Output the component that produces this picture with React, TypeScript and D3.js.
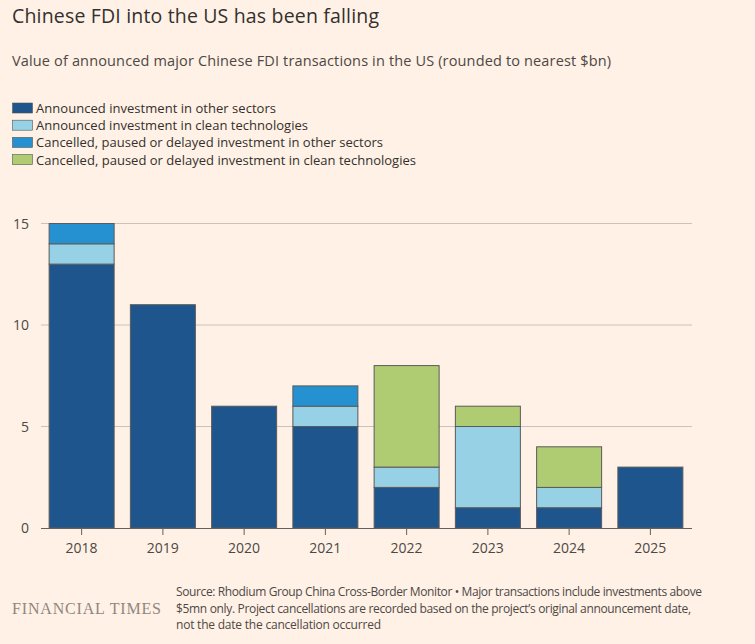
import React, { useEffect, useRef } from "react";
import * as d3 from "d3";

const years = ["2018", "2019", "2020", "2021", "2022", "2023", "2024", "2025"];
const announcedOther = [13, 11, 6, 5, 2, 1, 1, 3];
const announcedClean = [1, 0, 0, 1, 1, 4, 1, 0];
const cancelledOther = [1, 0, 0, 1, 0, 0, 0, 0];
const cancelledClean = [0, 0, 0, 0, 5, 1, 2, 0];
const yTicks = [0, 5, 10, 15];

const seriesNames = [
  "Announced investment in other sectors",
  "Announced investment in clean technologies",
  "Cancelled, paused or delayed investment in other sectors",
  "Cancelled, paused or delayed investment in clean technologies",
];
const colors = ["#1f558d", "#96d1e6", "#2591d0", "#b0cc72"];

const W = 755;
const H = 644;
const FONT = "'Open Sans', 'Noto Sans', sans-serif";

export default function App() {
  const ref = useRef<SVGSVGElement>(null);

  useEffect(() => {
    const svg = d3.select(ref.current);
    svg.selectAll("*").remove();

    svg.append("rect").attr("width", W).attr("height", H).attr("fill", "#fff1e5");

    svg.append("text").attr("x", 12).attr("y", 23).attr("font-size", 19.5)
      .attr("fill", "#33302e").attr("font-family", FONT).attr("textLength", 367)
      .text("Chinese FDI into the US has been falling");

    svg.append("text").attr("x", 12).attr("y", 66).attr("font-size", 14.5)
      .attr("fill", "#4d4845").attr("font-family", FONT).attr("textLength", 599)
      .text("Value of announced major Chinese FDI transactions in the US (rounded to nearest $bn)");

    // legend, one row per series
    const legend = svg.append("g");
    const legendWidths = [240, 272, 347, 380];
    seriesNames.forEach((name, i) => {
      const y = 103 + i * 17.2;
      legend.append("rect").attr("x", 12.5).attr("y", y).attr("width", 20).attr("height", 10)
        .attr("fill", colors[i]).attr("stroke", "#555").attr("stroke-width", 0.6);
      legend.append("text").attr("x", 36).attr("y", y + 10).attr("font-size", 13)
        .attr("fill", "#33302e").attr("font-family", FONT).attr("textLength", legendWidths[i])
        .text(name);
    });

    const x = d3.scaleBand().domain(years).range([41, 691]).paddingInner(0.2).paddingOuter(0.1);
    const y = d3.scaleLinear().domain([0, 15]).range([528, 223.5]);

    const g = svg.append("g");
    g.selectAll(".grid").data(yTicks.filter((t) => t > 0)).enter().append("line")
      .attr("x1", 41).attr("x2", 692).attr("y1", (d) => y(d)).attr("y2", (d) => y(d))
      .attr("stroke", "#cbc2b9").attr("stroke-width", 1);

    g.selectAll(".ytick").data(yTicks).enter().append("text")
      .attr("x", 29).attr("y", (d) => y(d) + 5).attr("text-anchor", "end")
      .attr("font-size", 14).attr("fill", "#4d4845").attr("font-family", FONT)
      .text((d) => d);

    const rows = years.map((yr, i) => ({
      year: yr,
      s0: announcedOther[i],
      s1: announcedClean[i],
      s2: cancelledOther[i],
      s3: cancelledClean[i],
    }));
    const stacked = d3.stack<any>().keys(["s0", "s1", "s2", "s3"])(rows);

    stacked.forEach((layer, li) => {
      g.selectAll(`.bar${li}`).data(layer.filter((d) => d[1] - d[0] > 0)).enter().append("rect")
        .attr("x", (d) => x(d.data.year)!)
        .attr("width", x.bandwidth())
        .attr("y", (d) => y(d[1]))
        .attr("height", (d) => y(d[0]) - y(d[1]))
        .attr("fill", colors[li])
        .attr("stroke", "#5a5a5a").attr("stroke-width", 1);
    });

    g.append("line").attr("x1", 41).attr("x2", 692).attr("y1", 528.5).attr("y2", 528.5)
      .attr("stroke", "#66605c").attr("stroke-width", 1);

    years.forEach((yr) => {
      const cx = x(yr)! + x.bandwidth() / 2;
      g.append("line").attr("x1", cx).attr("x2", cx).attr("y1", 529).attr("y2", 535)
        .attr("stroke", "#66605c");
      g.append("text").attr("x", cx).attr("y", 553).attr("text-anchor", "middle")
        .attr("font-size", 14).attr("fill", "#4d4845").attr("font-family", FONT).text(yr);
    });

    svg.append("text").attr("x", 12).attr("y", 614).attr("font-size", 16)
      .attr("fill", "#8f8780").attr("font-family", "'Liberation Serif', 'DejaVu Serif', serif")
      .attr("textLength", 149).text("FINANCIAL TIMES");

    const foot = [
      ["Source: Rhodium Group China Cross-Border Monitor \u2022 Major transactions include investments above", 526],
      ["$5mn only. Project cancellations are recorded based on the project\u2019s original announcement date,", 515],
      ["not the date the cancellation occurred", 205],
    ] as [string, number][];
    foot.forEach(([t, w], i) => {
      svg.append("text").attr("x", 176).attr("y", 596 + i * 16.5).attr("font-size", 12)
        .attr("fill", "#4d4845").attr("font-family", FONT).attr("textLength", w).text(t);
    });
  }, []);

  return <svg ref={ref} width={W} height={H} style={{ display: "block", position: "absolute", left: 0, top: 0 }} />;
}
